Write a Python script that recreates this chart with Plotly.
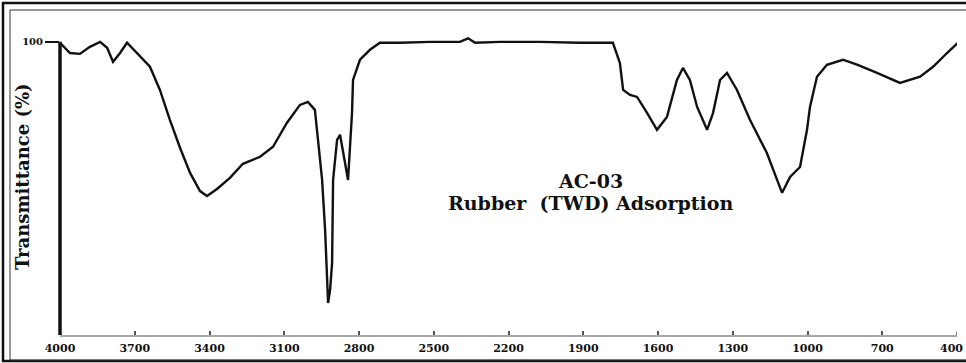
import plotly.graph_objects as go

# Wavenumber (cm-1) and transmittance (%)
wavenumber = [4000, 3960, 3920, 3880, 3839, 3811, 3787, 3759, 3731, 3691, 3639, 3599, 3559,
              3518, 3478, 3438, 3410, 3370, 3318, 3266, 3197, 3145, 3089, 3037, 3005, 2977,
              2965, 2948, 2936, 2924, 2916, 2908, 2904, 2888, 2876, 2864, 2844, 2828, 2824,
              2796, 2756, 2716, 2635, 2515, 2395, 2362, 2334, 2234, 2074, 1913, 1781, 1753,
              1740, 1712, 1684, 1644, 1604, 1564, 1524, 1500, 1472, 1443, 1403, 1379, 1351,
              1323, 1283, 1231, 1163, 1122, 1102, 1070, 1030, 1002, 990, 962, 922, 858, 801,
              721, 629, 548, 496, 440, 396]
transmittance = [99.7, 96.2, 95.9, 98.3, 100.0, 98.0, 93.2, 96.2, 99.7, 96.2, 91.5, 83.6, 73.4,
                 63.8, 55.3, 49.1, 47.4, 49.8, 53.6, 58.4, 60.8, 64.2, 72.4, 78.5, 79.5, 76.8,
                 66.6, 52.9, 35.8, 10.9, 15.4, 24.6, 52.9, 66.6, 68.3, 62.1, 52.9, 75.8, 87.0,
                 93.9, 97.3, 99.7, 99.7, 100.0, 100.0, 101.2, 99.7, 100.0, 100.0, 99.7, 99.7, 92.8,
                 83.6, 81.9, 81.2, 75.8, 70.0, 74.4, 87.0, 91.1, 87.0, 77.8, 70.0, 75.8, 87.0,
                 89.4, 83.6, 73.4, 62.1, 52.9, 48.5, 53.9, 57.3, 70.0, 77.8, 88.1, 92.2, 93.9, 92.2,
                 89.4, 86.0, 88.1, 91.5, 96.2, 99.7]

x_ticks = [4000, 3700, 3400, 3100, 2800, 2500, 2200, 1900, 1600, 1300, 1000, 700, 400]
x_tick_labels = [str(v) for v in x_ticks]
y_ticks = [100]
y_tick_labels = ["100"]

title_lines = ["AC-03", "Rubber  (TWD) Adsorption"]
y_title = "Transmittance (%)"

FONT = "DejaVu Serif"

fig = go.Figure()
fig.add_trace(go.Scatter(x=wavenumber, y=transmittance, mode="lines",
                         line=dict(color="#111111", width=2.4), showlegend=False,
                         hoverinfo="skip"))

annotations = [
    dict(text=title_lines[0], xref="x", yref="paper", x=1870, y=(335 - 181) / 299,
         showarrow=False, font=dict(family=FONT, size=19, color="#111", weight="bold"),
         xanchor="center", yanchor="middle"),
    dict(text=title_lines[1], xref="x", yref="paper", x=1870, y=(335 - 203) / 299,
         showarrow=False, font=dict(family=FONT, size=19, color="#111", weight="bold"),
         xanchor="center", yanchor="middle"),
    dict(text=y_title, xref="paper", yref="paper", x=0, xshift=-38,
         y=(335 - 177) / 299, textangle=-90, showarrow=False,
         font=dict(family=FONT, size=18, color="#111", weight="bold"),
         xanchor="center", yanchor="middle"),
    # last tick label sits at the right edge of the picture
    dict(text=x_tick_labels[-1], xref="x", yref="paper", x=x_ticks[-1], y=0, yshift=-13,
         xshift=8, showarrow=False,
         font=dict(family=FONT, size=11, color="#111", weight="bold"),
         xanchor="right", yanchor="middle"),
]

fig.update_layout(
    width=966, height=363,
    margin=dict(l=60, r=9, t=36, b=28),
    paper_bgcolor="white", plot_bgcolor="white",
    xaxis=dict(range=[4000, 400], tickvals=x_ticks[:-1], ticktext=x_tick_labels[:-1],
               showgrid=False, zeroline=False, showline=True, linecolor="#a8a8a8",
               linewidth=2, ticks="inside", ticklen=4, tickwidth=1.5, tickcolor="#555",
               tickfont=dict(family=FONT, size=11, color="#111", weight="bold"),
               ticklabelstandoff=2),
    yaxis=dict(range=[0, 102], tickvals=y_ticks, ticktext=y_tick_labels,
               showgrid=False, zeroline=False, showline=False,
               ticks="outside", ticklen=14, tickwidth=1.5, tickcolor="#111",
               tickfont=dict(family=FONT, size=10, color="#111", weight="bold")),
    shapes=[
        dict(type="line", xref="x", yref="y", x0=400, x1=400, y0=0, y1=1.2,
             line=dict(color="#555", width=1.5)),
        dict(type="line", xref="paper", yref="y", x0=0, x1=0, y0=100, y1=-1.5,
             line=dict(color="#111", width=3.5)),
        dict(type="rect", xref="paper", yref="paper", x0=-57 / 897, x1=1.05,
             y0=-26 / 299, y1=1 + 33 / 299, line=dict(color="#111", width=2.5)),
        dict(type="rect", xref="paper", yref="paper", x0=-50 / 897, x1=1.05,
             y0=-25 / 299, y1=1 + 26 / 299, line=dict(color="#333", width=1)),
    ],
    annotations=annotations,
)

fig.write_html("out.html")
